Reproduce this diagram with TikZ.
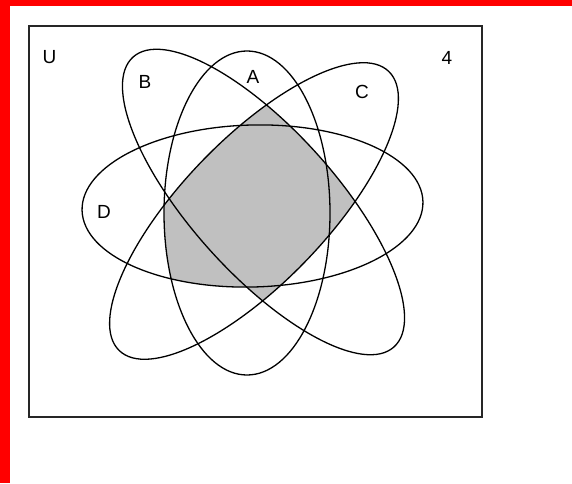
\documentclass[tikz,border=0pt]{standalone}
\usepackage{fontspec}
\setmainfont{Liberation Sans}
\usepackage{tikz}

\definecolor{vennfill}{RGB}{192,192,192}

% the four sets, reused for clipping
\newcommand{\ellA}{(247,270) ellipse [x radius=83, y radius=162]}
\newcommand{\ellB}{[rotate around={-48:(263.5,281)}] (263.5,281) ellipse [x radius=195, y radius=72]}
\newcommand{\ellC}{[rotate around={46:(254,272)}] (254,272) ellipse [x radius=194, y radius=72]}
\newcommand{\ellD}{[rotate around={1.5:(252.5,277)}] (252.5,277) ellipse [x radius=170.5, y radius=81]}

\begin{document}
\begin{tikzpicture}[x=1pt,y=1pt,
  venn/.style={line width=1.3pt, black},
  lbl/.style={font=\fontsize{19}{19}\selectfont, inner sep=0pt}]
% Page and red edge
\fill[white] (0,0) rectangle (572,483);
\fill[red] (0,477) rectangle (572,483);
\fill[red] (0,0) rectangle (10,483);

% Shaded region
\begin{scope}
  \clip \ellB;
  \fill[vennfill] \ellC;
\end{scope}
\begin{scope}
  \clip \ellA;
  \clip \ellD;
  \clip \ellC;
  \fill[vennfill] (100,100) rectangle (262,283);
\end{scope}

% Sets
\draw[venn] \ellA;
\draw[venn] \ellB;
\draw[venn] \ellC;
\draw[venn] \ellD;

% Universe
\draw[line width=1.4pt, black!85] (29,66) rectangle (482,457);

% Labels
\node[lbl] (u) at (49.5,425.5) {U};
\node[lbl] (b) at (145,401) {B};
\node[lbl] (a) at (253,406) {A};
\node[lbl] (c) at (362,391) {C};
\node[lbl] (d) at (104,271) {D};
\node[lbl] (four) at (447,425) {4};

\end{tikzpicture}
\end{document}
